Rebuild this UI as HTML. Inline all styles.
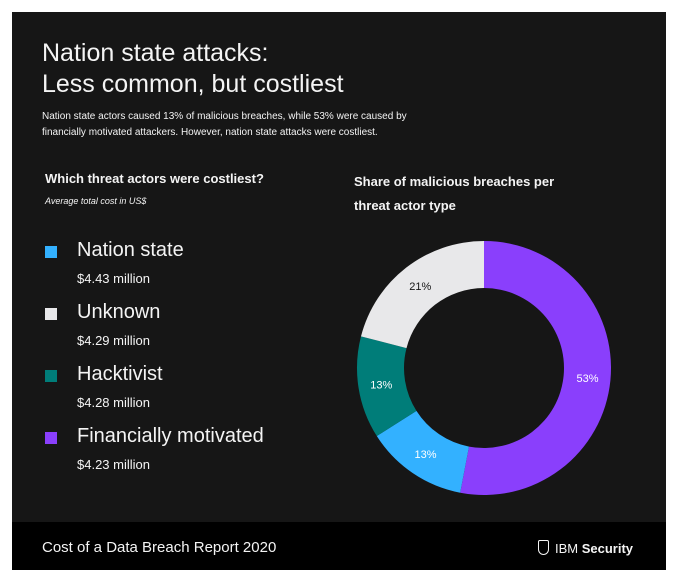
<!DOCTYPE html>
<html><head><meta charset="utf-8"><style>
body{margin:0;width:676px;height:581px;background:#fff;font-family:"Liberation Sans",sans-serif;position:relative;overflow:hidden}
.p{position:absolute;left:12px;top:12px;width:654px;height:558px;background:#161616}
.f{position:absolute;left:12px;top:522px;width:654px;height:48px;background:#000}
.t{position:absolute;color:#f4f4f4;white-space:nowrap}
.sq{position:absolute;width:12px;height:12px}
</style></head><body>
<div class="p"></div>
<div class="f"></div>
<div class="t" style="left:42px;top:38px;font-size:25px;line-height:31px;font-weight:300">Nation state attacks:<br>Less common, but costliest</div>
<div class="t" style="left:42px;top:109px;font-size:10px;line-height:16px">Nation state actors caused 13% of malicious breaches, while 53% were caused by<br>financially motivated attackers. However, nation state attacks were costliest.</div>
<div class="t" style="left:45px;top:171px;font-size:13px;font-weight:bold">Which threat actors were costliest?</div>
<div class="t" style="left:45px;top:196px;font-size:9px;font-style:italic">Average total cost in US$</div>
<div class="t" style="left:354px;top:170px;font-size:13px;font-weight:bold;line-height:24px">Share of malicious breaches per<br>threat actor type</div>
<div id="legend"></div>
<svg id="donut" width="676" height="581" style="position:absolute;left:0;top:0"></svg>
<div class="t" style="left:42px;top:539px;font-size:15px;font-weight:300">Cost of a Data Breach Report 2020</div>
<div class="t" style="left:538px;top:540px;font-size:13px"><span style="display:inline-block;width:9px;height:13px;border:1.5px solid #f4f4f4;border-radius:2px 2px 6px 6px;vertical-align:-2px;margin-right:6px"></span>IBM <b>Security</b></div>
<script>
const actors=["Nation state","Unknown","Hacktivist","Financially motivated"];
const costs=["$4.43 million","$4.29 million","$4.28 million","$4.23 million"];
const actorColors=["#33b1ff","#e8e8ea","#007d79","#8a3ffc"];
const sliceNames=["Financially motivated","Nation state","Hacktivist","Unknown"];
const shares=[53,13,13,21];
const sliceColors=["#8a3ffc","#33b1ff","#007d79","#e8e8ea"];
const lg=document.getElementById('legend');
actors.forEach((a,i)=>{
 const y=241+i*62;
 const s=document.createElement('div');s.className='sq';s.style.left='45px';s.style.top=(y+5)+'px';s.style.background=actorColors[i];
 
 
 lg.appendChild(s);
 const t=document.createElement('div');t.className='t';t.style.left='77px';t.style.top=(y-2)+'px';t.style.fontSize='20px';t.textContent=a;
 
 
 lg.appendChild(t);
 const v=document.createElement('div');v.className='t';v.style.left='77px';v.style.top=(y+30)+'px';v.style.fontSize='13px';v.textContent=costs[i];
 
 
 lg.appendChild(v);
});
const svg=document.getElementById('donut'),NS='http://www.w3.org/2000/svg';
const cx=484,cy=368,R=127,r=80,total=shares.reduce((a,b)=>a+b,0);
let acc=0;
function pt(a,rad){return [cx+rad*Math.sin(a),cy-rad*Math.cos(a)];}
shares.forEach((v,i)=>{
 const a0=acc/total*2*Math.PI;acc+=v;const a1=acc/total*2*Math.PI;
 const lf=(a1-a0)>Math.PI?1:0;
 const [x0,y0]=pt(a0,R),[x1,y1]=pt(a1,R),[x2,y2]=pt(a1,r),[x3,y3]=pt(a0,r);
 const p=document.createElementNS(NS,'path');
 p.setAttribute('d',`M${x0},${y0}A${R},${R} 0 ${lf} 1 ${x1},${y1}L${x2},${y2}A${r},${r} 0 ${lf} 0 ${x3},${y3}Z`);
 p.setAttribute('fill',sliceColors[i]);
 
 
 svg.appendChild(p);
 const [lx,ly]=pt((a0+a1)/2,104);
 const t=document.createElementNS(NS,'text');
 t.setAttribute('x',lx);t.setAttribute('y',ly+4);t.setAttribute('text-anchor','middle');
 t.setAttribute('font-size','11');t.setAttribute('fill',i==3?'#161616':'#fff');
 t.textContent=v+'%';
 
 
 svg.appendChild(t);
});
</script>
</body></html>
